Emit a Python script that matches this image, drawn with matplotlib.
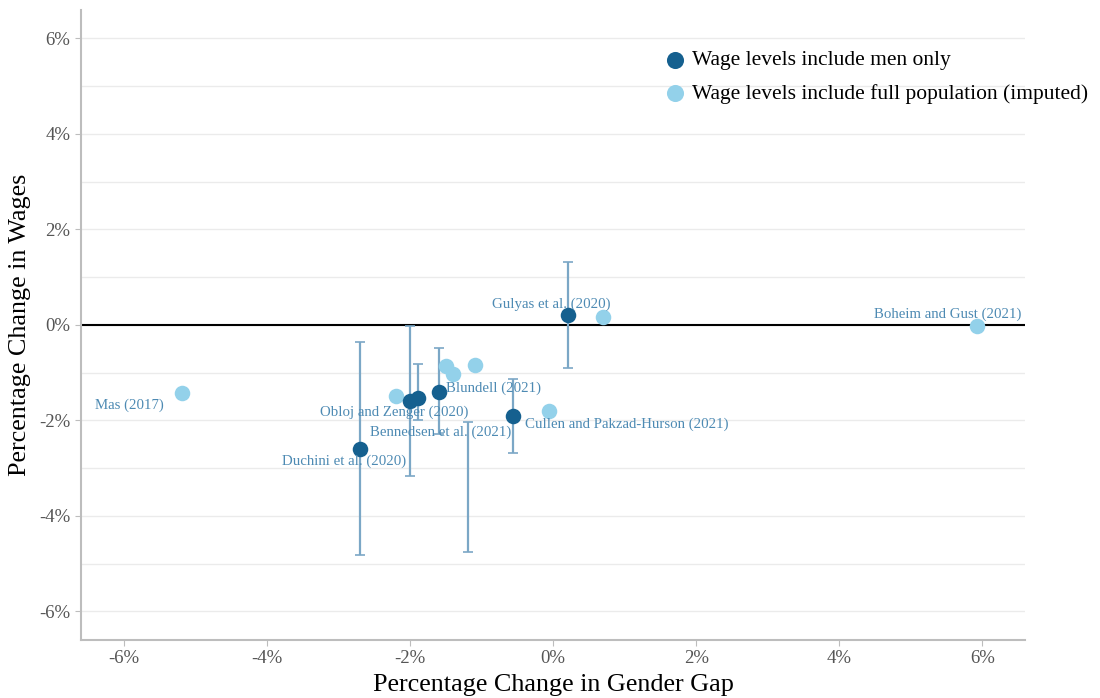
import matplotlib.pyplot as plt
from matplotlib.ticker import FuncFormatter, MultipleLocator

plt.rcParams["font.family"] = ["Liberation Serif", "DejaVu Serif"]

# Studies where wage levels include men only (percent)
men_x = [-2.70, -2.00, -1.89, -1.59, -0.56, 0.21]
men_y = [-2.60, -1.59, -1.53, -1.41, -1.91, 0.21]

# Imputed full-population estimates (percent)
full_x = [-5.19, 5.92, 0.70, -0.06, -2.20, -1.50, -1.40, -1.09]
full_y = [-1.43, -0.02, 0.17, -1.80, -1.49, -0.86, -1.03, -0.84]

# Confidence intervals on wage effect
err_x = [-2.70, -2.00, -1.89, -1.59, -0.56, 0.21, -1.19]
err_lo = [-4.82, -3.17, -2.00, -2.29, -2.69, -0.90, -4.76]
err_hi = [-0.36, -0.02, -0.82, -0.48, -1.13, 1.32, -2.03]

# Study labels (text, x, y, alignment)
labels = [
    ("Gulyas et al. (2020)", -0.03, 0.44, "center"),
    ("Boheim and Gust (2021)", 5.51, 0.23, "center"),
    ("Mas (2017)", -5.93, -1.68, "center"),
    ("Blundell (2021)", -1.50, -1.32, "left"),
    ("Obloj and Zenger (2020)", -2.22, -1.83, "center"),
    ("Bennedsen et al. (2021)", -1.57, -2.24, "center"),
    ("Cullen and Pakzad-Hurson (2021)", 1.03, -2.08, "center"),
    ("Duchini et al. (2020)", -2.92, -2.85, "center"),
]

DARK = "#15608f"
LIGHT = "#93d1ea"
BAR = "#7ba7c6"
TEXT = "#4d8ab3"
GREY = "#555555"

fig = plt.figure(figsize=(11, 6.98), dpi=100)
ax = fig.add_axes([0.0736, 0.083, 0.8585, 0.903])

ax.axhline(0, color="black", lw=1.5, zorder=2)

for x, lo, hi in zip(err_x, err_lo, err_hi):
    ax.errorbar(x, (lo + hi) / 2, yerr=[[(hi - lo) / 2], [(hi - lo) / 2]],
                fmt="none", ecolor=BAR, elinewidth=1.6, capsize=3.5,
                capthick=1.2, zorder=3)

ax.scatter(full_x, full_y, s=125, color=LIGHT, linewidth=0, zorder=4,
           label="Wage levels include full population (imputed)")
ax.scatter(men_x, men_y, s=125, color=DARK, linewidth=0, zorder=5,
           label="Wage levels include men only")

for text, x, y, ha in labels:
    ax.text(x, y, text, ha=ha, va="center", fontsize=10.7, color=TEXT,
            zorder=6)

ax.set_xlim(-6.6, 6.6)
ax.set_ylim(-6.6, 6.6)
ax.xaxis.set_major_locator(MultipleLocator(2))
ax.yaxis.set_major_locator(MultipleLocator(2))
ax.yaxis.set_minor_locator(MultipleLocator(1))
pct = FuncFormatter(lambda v, _: f"{v:.0f}%")
ax.xaxis.set_major_formatter(pct)
ax.yaxis.set_major_formatter(pct)

ax.grid(True, axis="y", which="both", color="#ebebeb", lw=1.0, zorder=0)
ax.set_axisbelow(True)
for side in ("top", "right"):
    ax.spines[side].set_visible(False)
for side in ("left", "bottom"):
    ax.spines[side].set_color("#bdbdbd")
    ax.spines[side].set_linewidth(1.5)
ax.tick_params(which="major", colors="#bdbdbd", labelcolor=GREY,
               labelsize=13.5, length=4)
ax.tick_params(which="minor", length=0)

ax.set_xlabel("Percentage Change in Gender Gap", fontsize=18.8, labelpad=5)
ax.set_ylabel("Percentage Change in Wages", fontsize=18.8, labelpad=6)

handles, names = ax.get_legend_handles_labels()
fig.legend(handles[::-1], names[::-1], loc="upper left",
           bbox_to_anchor=(0.605, 0.928), frameon=False, fontsize=15.5,
           handlelength=0.9, handletextpad=0.35, labelspacing=0.62,
           borderaxespad=0, borderpad=0, markerscale=1.1)

fig.savefig("out.png", dpi=100)
